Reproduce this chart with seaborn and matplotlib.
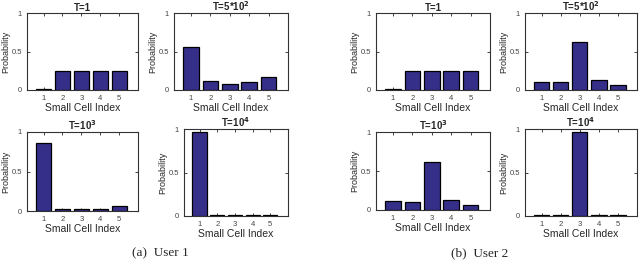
import matplotlib
matplotlib.use("Agg")
import matplotlib.pyplot as plt
import seaborn as sns

# data
cells = ["1", "2", "3", "4", "5"]
titles = ["T=1", "T=5*10$^2$", "T=10$^3$", "T=10$^4$"]

user1_t1 = [0.01, 0.25, 0.25, 0.25, 0.25]
user1_t500 = [0.56, 0.12, 0.08, 0.10, 0.17]
user1_t1000 = [0.86, 0.03, 0.02, 0.03, 0.06]
user1_t10000 = [0.97, 0.006, 0.006, 0.006, 0.006]

user2_t1 = [0.01, 0.25, 0.25, 0.25, 0.25]
user2_t500 = [0.11, 0.11, 0.62, 0.13, 0.07]
user2_t1000 = [0.11, 0.10, 0.61, 0.13, 0.07]
user2_t10000 = [0.006, 0.006, 0.97, 0.006, 0.006]

captions = ["(a)  User 1", "(b)  User 2"]

sns.set_theme(style="white")
plt.rcParams["font.family"] = ["Liberation Sans", "DejaVu Sans"]
plt.rcParams["mathtext.default"] = "bf"

bar_color = "#352f8a"

fig = plt.figure(figsize=(6.4, 2.68), dpi=100)
W, H = 640, 268


def box(x0, y0, x1, y1):
    return [x0 / W, 1 - y1 / H, (x1 - x0) / W, (y1 - y0) / H]


panels = [
    (user1_t1, box(27, 13, 138, 90), titles[0]),
    (user1_t500, box(174, 13, 288, 90), titles[1]),
    (user1_t1000, box(27, 132, 138, 211), titles[2]),
    (user1_t10000, box(184, 129, 288, 216), titles[3]),
    (user2_t1, box(376, 13, 490, 90), titles[0]),
    (user2_t500, box(525, 13, 637, 90), titles[1]),
    (user2_t1000, box(376, 132, 490, 210), titles[2]),
    (user2_t10000, box(525, 129, 637, 216), titles[3]),
]

for vals, rect, title in panels:
    ax = fig.add_axes(rect)
    sns.barplot(x=cells, y=vals, ax=ax, color=bar_color, edgecolor="black",
                linewidth=0.9, width=0.8, saturation=1)
    ax.set_xlim(-0.88, 5.0)
    ax.set_ylim(0, 1)
    ax.set_yticks([0, 0.5, 1])
    ax.set_yticklabels(["0", "0.5", "1"])
    ax.tick_params(direction="in", length=2, width=0.6, labelsize=5.5,
                   labelcolor="#444444", top=True, right=True, pad=3.5,
                   bottom=True, left=True)
    for s in ax.spines.values():
        s.set_color("#333333")
        s.set_linewidth(0.8)
    ax.set_title(title, fontsize=7, fontweight="bold", pad=1.5)
    ax.set_xlabel("Small Cell Index", fontsize=7.5, labelpad=1)
    ax.set_ylabel("Probability", fontsize=6.5, labelpad=1)

fig.text(0.25, 0.055, captions[0], ha="center", va="center", fontsize=9.5,
         family=["Liberation Serif", "DejaVu Serif"])
fig.text(0.75, 0.055, captions[1], ha="center", va="center", fontsize=9.5,
         family=["Liberation Serif", "DejaVu Serif"])

fig.savefig("out.png", dpi=100)
